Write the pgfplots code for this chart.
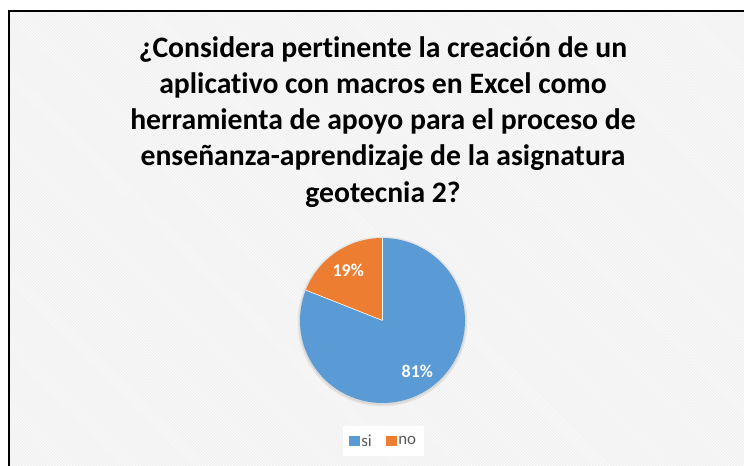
\documentclass[border=0pt]{standalone}
\usepackage{pgfplots}
\pgfplotsset{compat=1.18}
\usepackage{pgfplotstable}
\usetikzlibrary{patterns,calc}
\usepackage{fontspec}
\setmainfont{Carlito}[Ligatures={NoCommon}]

\definecolor{sicolor}{HTML}{5B9BD5}
\definecolor{nocolor}{HTML}{ED7D31}
\definecolor{legtext}{HTML}{595959}
\definecolor{bggray}{HTML}{F1F1F1}

% answers in percent
\pgfplotstableread{
label value
si 81
no 19
}\piedata
\pgfplotstablegetelem{0}{value}\of\piedata \let\vsi\pgfplotsretval
\pgfplotstablegetelem{1}{value}\of\piedata \let\vno\pgfplotsretval

\tikzset{ttl/.style={anchor=base, text=black, font=\fontsize{29.8}{36}\selectfont\bfseries}}

\begin{document}
\begin{tikzpicture}
\begin{axis}[
    scale only axis, width=744bp, height=466bp,
    xmin=0, xmax=744, ymin=0, ymax=466,
    hide axis, clip=false,
    legend columns=2,
    legend style={at={(0.5155,0.0536)}, anchor=center, draw=none, fill=white,
        font=\fontsize{17}{19}\selectfont, text=legtext,
        inner xsep=6bp, inner ysep=6bp,
        /tikz/column 2/.style={column sep=12bp}},
    legend image code/.code={\fill[#1] (0bp,-4.5bp) rectangle (10bp,4.5bp);},
]
% background and frame
\fill[bggray] (axis cs:9,0) rectangle (axis cs:744,455);
\fill[pattern=north west lines, pattern color=white] (axis cs:9,0) rectangle (axis cs:744,455);
\draw[black, line width=1.6bp] (axis cs:9,0) -- (axis cs:9,455) -- (axis cs:744,455);

% title
\node[ttl] at (axis cs:383,408) {¿Considera pertinente la creación de un};
\node[ttl] at (axis cs:383,372) {aplicativo con macros en Excel como};
\node[ttl] at (axis cs:383,336) {herramienta de apoyo para el proceso de};
\node[ttl] at (axis cs:383,300) {enseñanza-aprendizaje de la asignatura};
\node[ttl] at (axis cs:383,263) {geotecnia 2?};

% soft shadow under the pie
\fill[black, opacity=0.06] (axis cs:382.5,144.5) circle[radius=85bp];
\fill[black, opacity=0.06] (axis cs:382.5,144.5) circle[radius=83.5bp];

% pie slices, clockwise from the top
\fill[sicolor] (axis cs:382.5,145.5) -- ++(90:82.5bp)
    arc[start angle=90, delta angle=-3.6*\vsi, radius=82.5bp] -- cycle;
\fill[nocolor] (axis cs:382.5,145.5) -- ++({90-3.6*\vsi}:82.5bp)
    arc[start angle={90-3.6*\vsi}, delta angle=-3.6*\vno, radius=82.5bp] -- cycle;
\draw[white, line width=0.6bp] (axis cs:382.5,145.5) -- ++(90:82.5bp);
\draw[white, line width=0.6bp] (axis cs:382.5,145.5) -- ++({90-3.6*\vsi}:82.5bp);

% data labels
\node[text=white, font=\fontsize{18}{20}\selectfont\bfseries]
    at ($(axis cs:382.5,145.5)+({90-1.8*\vsi}:62bp)$) {\pgfmathprintnumber[assume math mode=true]{\vsi}\%};
\node[text=white, font=\fontsize{18}{20}\selectfont\bfseries]
    at ($(axis cs:382.5,145.5)+({90-3.6*\vsi-1.8*\vno}:61bp)$) {\pgfmathprintnumber[assume math mode=true]{\vno}\%};

\addlegendimage{sicolor}
\addlegendentry{si}
\addlegendimage{nocolor}
\addlegendentry{no}
\end{axis}
\pgfresetboundingbox
\path (0,0) rectangle (744bp,466bp);
\end{tikzpicture}
\end{document}
